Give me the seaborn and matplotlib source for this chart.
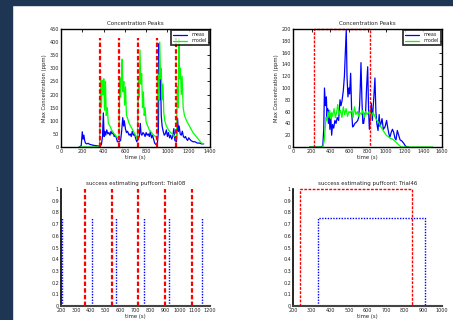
import matplotlib
matplotlib.use("Agg")
import matplotlib.pyplot as plt
import seaborn as sns
from matplotlib.patches import Rectangle

# ---- data ----
# top left: Trial08 concentration
tl_meas_t = [170, 190, 200, 207, 215, 222, 230, 240, 255, 270, 290, 310, 330, 350, 365, 380, 390, 398, 405,
             412, 420, 430, 440, 450, 460, 470, 480, 490, 500, 510, 520, 530, 545, 560, 570, 580, 588, 595,
             605, 615, 625, 640, 650, 660, 670, 680, 690, 700, 712, 725, 735, 745, 752, 760, 770, 780, 790,
             800, 810, 820, 830, 840, 850, 860, 870, 880, 890, 905, 915, 922, 928, 935, 942, 950, 960, 970,
             980, 990, 1000, 1010, 1020, 1030, 1040, 1050, 1060, 1070, 1085, 1095, 1103, 1110, 1120, 1130,
             1140, 1150, 1160, 1170, 1180, 1190, 1200, 1210, 1220, 1240, 1260, 1280, 1300, 1320, 1340]
tl_meas_v = [0, 5, 58, 30, 45, 25, 15, 12, 14, 10, 8, 6, 5, 4, 2, 10, 40, 130, 40,
             60, 45, 65, 50, 55, 45, 60, 50, 55, 40, 45, 35, 20, 20, 25, 60, 112, 80, 100,
             70, 55, 60, 45, 50, 40, 60, 45, 50, 35, 20, 30, 40, 90, 50, 45, 55, 50, 40,
             55, 45, 50, 40, 60, 35, 45, 30, 15, 10, 10, 60, 395, 180, 260, 120, 80, 60, 45,
             50, 65, 40, 55, 35, 45, 30, 40, 70, 25, 20, 110, 60, 80, 50, 45,
             60, 40, 35, 40, 30, 25, 35, 30, 25, 20, 20, 15, 15, 12, 12]
tl_model_t = [170, 250, 300, 362, 372, 380, 388, 395, 402, 410, 418, 425, 435, 445, 460, 475, 490, 510, 530,
              545, 552, 560, 568, 575, 582, 590, 598, 606, 615, 625, 640, 660, 680, 700, 718,
              728, 735, 742, 750, 758, 766, 774, 782, 790, 800, 815, 830, 850, 870, 890, 905,
              912, 920, 928, 935, 942, 950, 958, 966, 975, 990, 1010, 1030, 1050, 1070, 1085,
              1093, 1100, 1108, 1115, 1122, 1130, 1138, 1148, 1160, 1180, 1200, 1220, 1240, 1260,
              1280, 1300, 1320, 1340]
tl_model_v = [0, 0, 0, 0, 265, 150, 255, 200, 260, 140, 250, 120, 150, 90, 80, 65, 55, 45, 35,
              30, 265, 190, 265, 335, 210, 250, 160, 230, 120, 110, 90, 75, 60, 45, 30,
              265, 190, 370, 240, 280, 150, 210, 120, 150, 95, 80, 65, 55, 45, 40, 30,
              275, 180, 400, 260, 300, 180, 240, 130, 100, 80, 65, 55, 50, 40, 30,
              230, 150, 415, 260, 300, 200, 270, 150, 120, 100, 85, 70, 55, 45,
              35, 25, 15, 12]
tl_puffs = [362, 542, 722, 906, 1085]

# top right: Trial46 concentration
tr_meas_t = [180, 300, 320, 330, 338, 348, 358, 366, 372, 380, 388, 396, 405, 415, 425, 437, 450, 462,
             475, 490, 505, 515, 526, 540, 552, 562, 572, 580, 590, 600, 608, 619, 630, 640, 651, 665,
             680, 695, 705, 715, 722, 730, 740, 750, 759, 770, 780, 790, 802, 812, 820, 830, 841,
             852, 862, 870, 880, 890, 900, 913, 925, 935, 945, 956, 970, 988, 1005, 1020, 1030,
             1041, 1055, 1068, 1081, 1095, 1106, 1120, 1135, 1150, 1170, 1190, 1206, 1224, 1240]
tr_meas_v = [0, 0, 2, 30, 100, 70, 85, 50, 65, 40, 62, 30, 55, 20, 38, 32, 45, 40,
             50, 45, 80, 70, 78, 95, 120, 160, 199, 120, 85, 100, 90, 125, 60, 34, 36, 40,
             42, 45, 50, 70, 100, 143, 80, 40, 40, 55, 60, 100, 136, 60, 30, 50, 74,
             45, 70, 90, 117, 60, 40, 28, 55, 35, 40, 48, 30, 34, 45, 30, 22,
             17, 25, 30, 25, 15, 12, 28, 20, 12, 10, 6, 2, 0, 0]
tr_model_t = [180, 300, 320, 335, 345, 355, 365, 375, 385, 395, 405, 415, 425, 440, 455, 470, 480, 495,
              510, 525, 540, 555, 570, 585, 600, 615, 630, 645, 660, 675, 690, 705, 720, 735, 750,
              765, 780, 795, 810, 825, 840, 855, 870, 885, 900, 920, 940, 960, 980, 1000, 1020,
              1040, 1060, 1080, 1100, 1120, 1140, 1160, 1200, 1300, 1400, 1500]
tr_model_v = [0, 0, 0, 10, 30, 50, 45, 60, 50, 62, 48, 58, 52, 65, 50, 60, 72, 55,
              62, 50, 68, 55, 65, 52, 60, 58, 62, 50, 68, 55, 60, 52, 58, 55, 62,
              50, 60, 55, 58, 62, 50, 58, 55, 50, 45, 42, 35, 30, 25, 20, 18,
              15, 14, 12, 9, 6, 3, 0, 0, 0, 0, 0]
tr_puff = [230, 832]

# bottom left: success estimating puffcont, Trial08
bl_true = [360, 540, 720, 900, 1080]
bl_est = [208, 410, 568, 760, 927, 1148]
# bottom right: Trial46
br_true = [236, 840]
br_est = [336, 909]

BLUE, GREEN, RED = "#0000ff", "#00ff00", "#ff0000"
TXT = "#222222"

sns.set_style("white")
plt.rcParams["font.family"] = ["DejaVu Sans"]
plt.rcParams["font.size"] = 4

fig = plt.figure(figsize=(4.53, 3.2), dpi=100)
fig.patch.set_facecolor("white")
# slide frame (dark strips at top and left)
fig.add_artist(Rectangle((0, 1 - 5 / 320), 1, 5 / 320, transform=fig.transFigure, color="#1e3653", zorder=0))
fig.add_artist(Rectangle((0, 0), 12 / 453, 1, transform=fig.transFigure, color="#1e3653", zorder=0))

w, h_top, h_bot = 149 / 453, 118 / 320, 117 / 320
ax_tl = fig.add_axes([61 / 453, 1 - 147 / 320, w, h_top])
ax_tr = fig.add_axes([293 / 453, 1 - 147 / 320, w, h_top])
ax_bl = fig.add_axes([61 / 453, 1 - 306 / 320, w, h_bot])
ax_br = fig.add_axes([293 / 453, 1 - 306 / 320, w, h_bot])


def style_top(ax):
    for s in ax.spines.values():
        s.set_color("black")
        s.set_linewidth(1.0)
    ax.tick_params(direction="in", length=2, width=0.6, top=True, right=True,
                   labelsize=3.5, colors=TXT, pad=1.5)
    ax.tick_params(axis="both", which="both", color="black")
    ax.set_xlabel("time (s)", fontsize=3.8, color=TXT, labelpad=1)
    ax.set_ylabel("Max Concentration (ppm)", fontsize=3.8, color=TXT, labelpad=2)
    ax.set_title("Concentration Peaks", fontsize=4, color=TXT, pad=3)


def style_bot(ax, title):
    for k in ["top", "right"]:
        ax.spines[k].set_visible(False)
    ax.spines["left"].set_color("black")
    ax.spines["left"].set_linewidth(1.2)
    ax.spines["bottom"].set_color("#444444")
    ax.spines["bottom"].set_linewidth(1.5)
    ax.tick_params(direction="in", length=2, width=0.6, labelsize=3.5, colors=TXT, pad=1.5)
    ax.tick_params(axis="both", color="black")
    ax.set_xlabel("time (s)", fontsize=3.8, color=TXT, labelpad=1)
    ax.set_title(title, fontsize=4, color=TXT, pad=3)
    ax.set_ylim(0, 1)
    ax.set_yticks([i / 10 for i in range(11)])
    ax.set_yticklabels(["0", "0.1", "0.2", "0.3", "0.4", "0.5", "0.6", "0.7", "0.8", "0.9", "1"])


def legend(ax):
    leg = ax.legend(loc="upper right", fontsize=3.5, frameon=True, fancybox=False,
                    handlelength=3, borderpad=0.4, labelspacing=0.2, borderaxespad=0.3)
    leg.get_frame().set_edgecolor("black")
    leg.get_frame().set_linewidth(1.3)
    for t in leg.get_texts():
        t.set_color(TXT)


# ---- top left ----
sns.lineplot(x=tl_meas_t, y=tl_meas_v, sort=False, estimator=None, color=BLUE, lw=0.9, ax=ax_tl, label="meas")
sns.lineplot(x=tl_model_t, y=tl_model_v, sort=False, estimator=None, color=GREEN, lw=0.9, ax=ax_tl, label="model")
ax_tl.vlines(tl_puffs, 0, 415, colors=RED, linestyles=(0, (2, 1)), lw=1.6)
ax_tl.set_xlim(0, 1400)
ax_tl.set_ylim(0, 450)
ax_tl.set_xticks(range(0, 1401, 200))
ax_tl.set_yticks(range(0, 451, 50))
style_top(ax_tl)
legend(ax_tl)

# ---- top right ----
sns.lineplot(x=tr_meas_t, y=tr_meas_v, sort=False, estimator=None, color=BLUE, lw=0.9, ax=ax_tr, label="meas")
sns.lineplot(x=tr_model_t, y=tr_model_v, sort=False, estimator=None, color=GREEN, lw=0.9, ax=ax_tr, label="model")
ax_tr.plot([tr_puff[0], tr_puff[0], tr_puff[1], tr_puff[1]], [0, 200, 200, 0],
           color=RED, ls=(0, (2, 1)), lw=1.0, clip_on=False)
ax_tr.set_xlim(0, 1600)
ax_tr.set_ylim(0, 200)
ax_tr.set_xticks(range(0, 1601, 200))
ax_tr.set_yticks(range(0, 201, 20))
style_top(ax_tr)
legend(ax_tr)

# ---- bottom left ----
ax_bl.vlines(bl_true, 0, 1, colors=RED, linestyles=(0, (2, 1)), lw=1.6)
ax_bl.vlines(bl_est, 0, 0.75, colors=BLUE, linestyles=(0, (1, 1)), lw=1.0)
ax_bl.set_xlim(200, 1200)
ax_bl.set_xticks(range(200, 1201, 100))
style_bot(ax_bl, "success estimating puffcont: Trial08")

# ---- bottom right ----
ax_br.plot([br_true[0], br_true[0], br_true[1], br_true[1]], [0, 1, 1, 0],
           color=RED, ls=(0, (2, 1)), lw=1.0, clip_on=False)
ax_br.plot([br_est[0], br_est[0], br_est[1], br_est[1]], [0, 0.75, 0.75, 0],
           color=BLUE, ls=(0, (1, 1)), lw=1.0, clip_on=False)
ax_br.set_xlim(200, 1000)
ax_br.set_xticks(range(200, 1001, 100))
style_bot(ax_br, "success estimating puffcont: Trial46")

fig.savefig("out.png", dpi=100)
